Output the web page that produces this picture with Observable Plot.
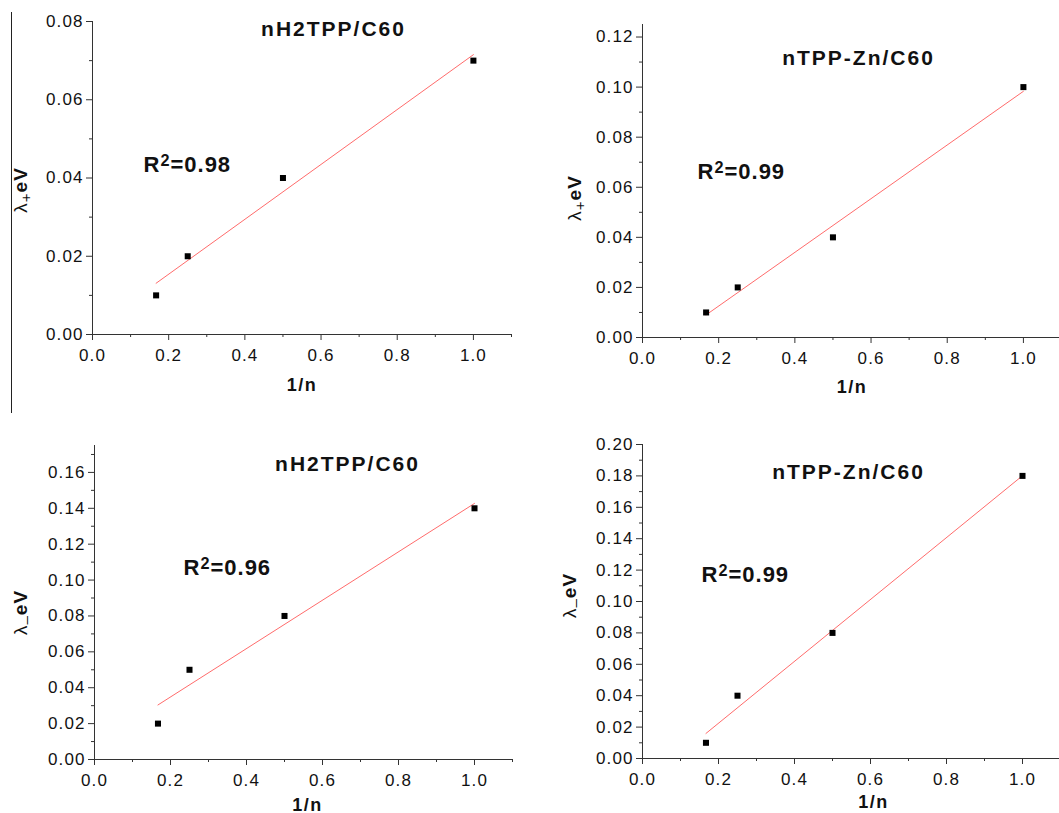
<!DOCTYPE html>
<html><head><meta charset="utf-8">
<script src="https://cdn.jsdelivr.net/npm/d3@7"></script>
<script src="https://cdn.jsdelivr.net/npm/@observablehq/plot@0.6"></script>
<style>
html,body{margin:0;padding:0;background:#fff;overflow:hidden}
#wrap{position:relative;width:1059px;height:813px;overflow:hidden;background:#fff}
.panel{position:absolute}
.panel svg{max-width:none !important}
#stray{position:absolute;left:11px;top:12px;width:1px;height:401px;background:#222}
</style>
</head><body>
<div id="wrap"></div>
<script>
// ---- data ----
const invN = [0.167, 0.25, 0.5, 1.0];                 // 1/n
const lamPlusH2TPP  = [0.01, 0.02, 0.04, 0.07];       // λ+ eV, nH2TPP/C60
const lamPlusZn     = [0.01, 0.02, 0.04, 0.10];       // λ+ eV, nTPP-Zn/C60
const lamMinusH2TPP = [0.02, 0.05, 0.08, 0.14];       // λ- eV, nH2TPP/C60
const lamMinusZn    = [0.01, 0.04, 0.08, 0.18];       // λ- eV, nTPP-Zn/C60
const titles = ["nH2TPP/C60", "nTPP-Zn/C60", "nH2TPP/C60", "nTPP-Zn/C60"];
const r2Values = ["0.98", "0.99", "0.96", "0.99"];
const ySubs = ["+", "+", "\u2013", "\u2013"];
const xLabel = "1/n";
const xTicks = [0, 0.2, 0.4, 0.6, 0.8, 1.0];
const yTicks1 = [0, 0.02, 0.04, 0.06, 0.08];
const yTicks2 = [0, 0.02, 0.04, 0.06, 0.08, 0.10, 0.12];
const yTicks3 = [0, 0.02, 0.04, 0.06, 0.08, 0.10, 0.12, 0.14, 0.16];
const yTicks4 = [0, 0.02, 0.04, 0.06, 0.08, 0.10, 0.12, 0.14, 0.16, 0.18, 0.20];
const yMax = [0.08, 0.125, 0.175, 0.20];

const xMinor = d3.range(0.1, 1.15, 0.2);
const minorOf = (m) => d3.range(0.01, m + 1e-9, 0.02);

const series = [lamPlusH2TPP, lamPlusZn, lamMinusH2TPP, lamMinusZn];
const yTicks = [yTicks1, yTicks2, yTicks3, yTicks4];

// layout (pixels)
const layout = [
  {left:0,   top:0,   w:530, h:410, ml:92,  mr:19, mt:21, mb:76, ylx:-79, yly:12, xly:56, xlx:0,  tdx:241, tdy:14, rdx:51, rdy:150},
  {left:530, top:0,   w:560, h:410, ml:112, mr:29, mt:24, mb:73, ylx:-75, yly:17, xly:55, xlx:0,  tdx:216, tdy:40, rdx:55, rdy:154},
  {left:0,   top:410, w:530, h:403, ml:94,  mr:18, mt:35, mb:54, ylx:-81, yly:10, xly:51, xlx:4,  tdx:253, tdy:25, rdx:89, rdy:129},
  {left:530, top:410, w:560, h:403, ml:112, mr:30, mt:34, mb:55, ylx:-80, yly:-6, xly:49, xlx:22, tdx:206, tdy:34, rdx:59, rdy:137}
];

const wrap = document.getElementById("wrap");
const font = '"Liberation Sans", Arial, Helvetica, sans-serif';
const SVGNS = "http://www.w3.org/2000/svg";
function tspan(txt, attrs) {
  const s = document.createElementNS(SVGNS, "tspan");
  for (const k in attrs) s.setAttribute(k, attrs[k]);
  s.textContent = txt;
  return s;
}

series.forEach((vals, k) => {
  const L = layout[k];
  const data = invN.map((x, i) => ({x, y: vals[i]}));
  const r2Text = "R2=" + r2Values[k];
  const yText = "λ" + ySubs[k] + "eV";
  const p = Plot.plot({
    width: L.w, height: L.h,
    marginLeft: L.ml, marginRight: L.mr, marginTop: L.mt, marginBottom: L.mb,
    style: {fontFamily: font, background: "transparent", color: "#111", overflow: "visible", maxWidth: "none"},
    x: {domain: [0, 1.1], label: null},
    y: {domain: [0, yMax[k]], label: null},
    marks: [
      Plot.axisX({ticks: xTicks, tickSize: 6, tickPadding: 8, tickFormat: d3.format(".1f"), stroke: "#333", fontSize: 17, label: null}),
      Plot.axisX({ticks: xMinor, tickSize: 3, tickFormat: () => "", stroke: "#333", label: null}),
      Plot.axisY({ticks: yTicks[k], tickSize: 6, tickPadding: 3, tickFormat: d3.format(".2f"), stroke: "#333", fontSize: 17, label: null}),
      Plot.axisY({ticks: minorOf(yMax[k]), tickSize: 3, tickFormat: () => "", stroke: "#333", label: null}),
      Plot.ruleX([0], {stroke: "#333"}),
      Plot.ruleY([0], {stroke: "#333"}),
      Plot.linearRegressionY(data, {x: "x", y: "y", stroke: "#ff5a5a", strokeWidth: 0.9, ci: 0}),
      Plot.dot(data, {x: "x", y: "y", symbol: "square", r: 3.4, fill: "#000"}),
      Plot.text([titles[k]], {text: d => d, frameAnchor: "top-left", dx: L.tdx, dy: L.tdy, textAnchor: "middle", lineAnchor: "bottom", fontSize: 21, fontWeight: "bold", fill: "#111"}),
      Plot.text([r2Text], {text: d => d, frameAnchor: "top-left", dx: L.rdx, dy: L.rdy, textAnchor: "start", lineAnchor: "bottom", fontSize: 22, fontWeight: "bold", fill: "#111"}),
      Plot.text([xLabel], {text: d => d, frameAnchor: "bottom", dx: L.xlx, dy: L.xly, textAnchor: "middle", lineAnchor: "bottom", fontSize: 18, fontWeight: "bold", fill: "#111"}),
      Plot.text([yText], {text: d => d, frameAnchor: "left", rotate: -90, dx: L.ylx, dy: L.yly, textAnchor: "middle", lineAnchor: "top", fontSize: 19, fontWeight: "bold", fill: "#111"})
    ]
  });
  p.style.maxWidth = "none";
  p.querySelectorAll("text").forEach(t => {
    const c = t.textContent;
    if (/^\d\.\d+$/.test(c)) {
      t.style.letterSpacing = "1.1px";
    } else if (c === titles[k]) {
      t.style.letterSpacing = "2px";
    } else if (c === xLabel) {
      t.style.letterSpacing = "1.5px";
    } else if (c === r2Text) {
      t.style.letterSpacing = "1px";
      t.textContent = "";
      t.appendChild(tspan("R", {}));
      t.appendChild(tspan("2", {"baseline-shift": "40%", "font-size": "74%"}));
      t.appendChild(tspan("=" + r2Values[k], {}));
    } else if (c === yText) {
      t.style.letterSpacing = "1px";
      t.textContent = "";
      t.appendChild(tspan("λ", {"font-weight": "normal"}));
      t.appendChild(tspan(ySubs[k], {"font-weight": "normal", "font-size": "80%", "baseline-shift": "-28%"}));
      t.appendChild(tspan("eV", {}));
    }
  });
  const div = document.createElement("div");
  div.className = "panel";
  div.style.left = L.left + "px";
  div.style.top = L.top + "px";
  div.style.width = L.w + "px";
  div.style.height = L.h + "px";
  div.appendChild(p);
  wrap.appendChild(div);
});
const stray = document.createElement("div");
stray.id = "stray";
wrap.appendChild(stray);
</script>
</body></html>
